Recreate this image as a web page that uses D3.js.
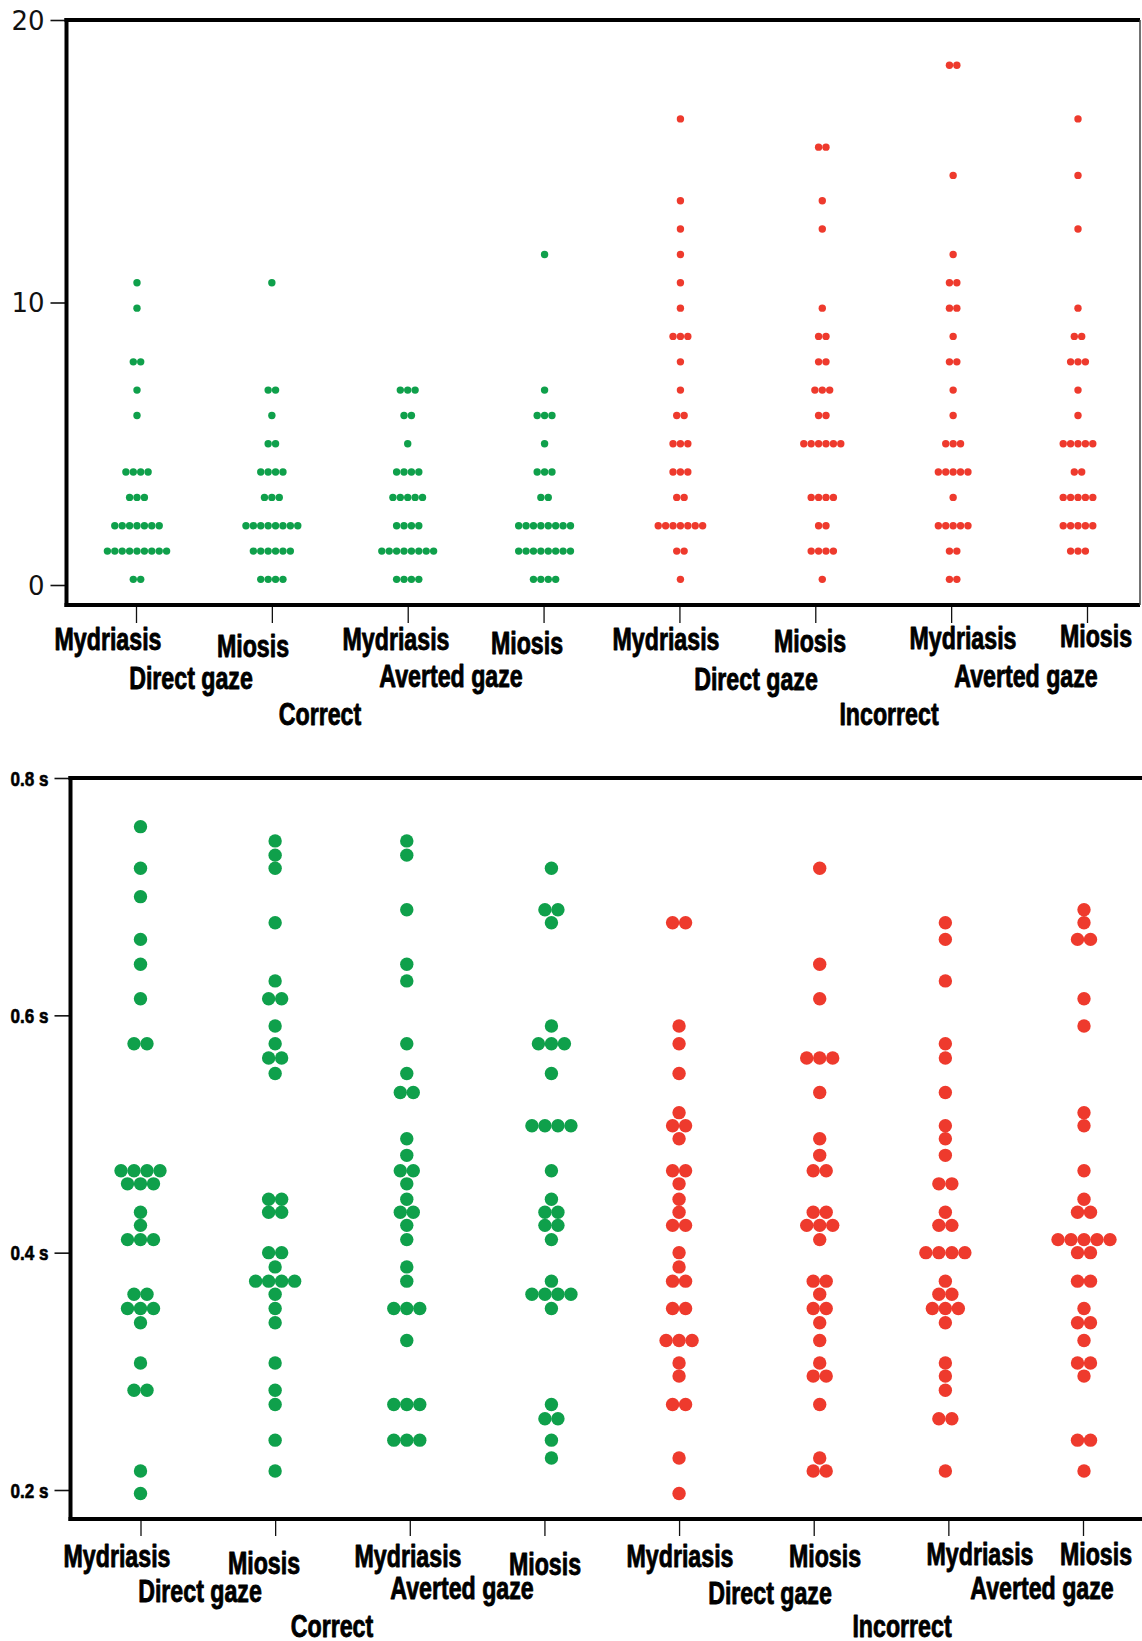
<!DOCTYPE html>
<html>
<head>
<meta charset="utf-8">
<script src="https://cdn.jsdelivr.net/npm/d3@7"></script>
<style>
  body { margin: 0; background: #fff; }
  svg { display: block; }
</style>
</head>
<body>
<svg id="chart" width="1142" height="1641"></svg>
<script>
// categories
const colIds = ["c-myd-dir", "c-mio-dir", "c-myd-avt", "c-mio-avt", "i-myd-dir", "i-mio-dir", "i-myd-avt", "i-mio-avt"];
const pupilLabels = ["Mydriasis", "Miosis", "Mydriasis", "Miosis", "Mydriasis", "Miosis", "Mydriasis", "Miosis"];
const gazeLabels = ["Direct gaze", "Averted gaze", "Direct gaze", "Averted gaze"];
const outcomeLabels = ["Correct", "Incorrect"];

// top panel: counts, [value, number of dots at that value]
const errCorrMydDir = [[10.7,1],[9.8,1],[7.9,2],[6.9,1],[6.0,1],[4.0,4],[3.1,3],[2.1,7],[1.2,9],[0.2,2]];
const errCorrMioDir = [[10.7,1],[6.9,2],[6.0,1],[5.0,2],[4.0,4],[3.1,3],[2.1,8],[1.2,6],[0.2,4]];
const errCorrMydAvt = [[6.9,3],[6.0,2],[5.0,1],[4.0,4],[3.1,5],[2.1,4],[1.2,8],[0.2,4]];
const errCorrMioAvt = [[11.7,1],[6.9,1],[6.0,3],[5.0,1],[4.0,3],[3.1,2],[2.1,8],[1.2,8],[0.2,4]];
const errIncMydDir = [[16.5,1],[13.6,1],[12.6,1],[11.7,1],[10.7,1],[9.8,1],[8.8,3],[7.9,1],[6.9,1],[6.0,2],[5.0,3],[4.0,3],[3.1,2],[2.1,7],[1.2,2],[0.2,1]];
const errIncMioDir = [[15.5,2],[13.6,1],[12.6,1],[9.8,1],[8.8,2],[7.9,2],[6.9,3],[6.0,2],[5.0,6],[3.1,4],[2.1,2],[1.2,4],[0.2,1]];
const errIncMydAvt = [[18.4,2],[14.5,1],[11.7,1],[10.7,2],[9.8,2],[8.8,1],[7.9,2],[6.9,1],[6.0,1],[5.0,3],[4.0,5],[3.1,1],[2.1,5],[1.2,2],[0.2,2]];
const errIncMioAvt = [[16.5,1],[14.5,1],[12.6,1],[9.8,1],[8.8,2],[7.9,3],[6.9,1],[6.0,1],[5.0,5],[4.0,2],[3.1,5],[2.1,5],[1.2,3]];
const errTicks = [0, 10, 20];

// bottom panel: response times in s, [value, number of dots]
const rtCorrMydDir = [[0.759,1],[0.724,1],[0.700,1],[0.664,1],[0.643,1],[0.614,1],[0.576,2],[0.469,4],[0.458,3],[0.434,1],[0.423,1],[0.411,3],[0.365,2],[0.353,3],[0.341,1],[0.307,1],[0.284,2],[0.216,1],[0.197,1]];
const rtCorrMioDir = [[0.747,1],[0.735,1],[0.724,1],[0.678,1],[0.629,1],[0.614,2],[0.591,1],[0.576,1],[0.564,2],[0.551,1],[0.445,2],[0.434,2],[0.400,2],[0.388,1],[0.376,4],[0.365,1],[0.353,1],[0.341,1],[0.307,1],[0.284,1],[0.272,1],[0.242,1],[0.216,1]];
const rtCorrMydAvt = [[0.747,1],[0.735,1],[0.689,1],[0.643,1],[0.629,1],[0.576,1],[0.551,1],[0.535,2],[0.496,1],[0.482,1],[0.469,2],[0.458,1],[0.445,1],[0.434,2],[0.423,1],[0.411,1],[0.388,1],[0.376,1],[0.353,3],[0.326,1],[0.272,3],[0.242,3]];
const rtCorrMioAvt = [[0.724,1],[0.689,2],[0.678,1],[0.591,1],[0.576,3],[0.551,1],[0.507,4],[0.469,1],[0.445,1],[0.434,2],[0.423,2],[0.411,1],[0.376,1],[0.365,4],[0.353,1],[0.272,1],[0.260,2],[0.242,1],[0.227,1]];
const rtIncMydDir = [[0.678,2],[0.591,1],[0.576,1],[0.551,1],[0.518,1],[0.507,2],[0.496,1],[0.469,2],[0.458,1],[0.445,1],[0.434,1],[0.423,2],[0.400,1],[0.388,1],[0.376,2],[0.353,2],[0.326,3],[0.307,1],[0.296,1],[0.272,2],[0.227,1],[0.197,1]];
const rtIncMioDir = [[0.724,1],[0.643,1],[0.614,1],[0.564,3],[0.535,1],[0.496,1],[0.482,1],[0.469,2],[0.434,2],[0.423,3],[0.411,1],[0.376,2],[0.365,1],[0.353,2],[0.341,1],[0.326,1],[0.307,1],[0.296,2],[0.272,1],[0.227,1],[0.216,2]];
const rtIncMydAvt = [[0.678,1],[0.664,1],[0.629,1],[0.576,1],[0.564,1],[0.535,1],[0.507,1],[0.496,1],[0.482,1],[0.458,2],[0.434,1],[0.423,2],[0.400,4],[0.376,1],[0.365,2],[0.353,3],[0.341,1],[0.307,1],[0.296,1],[0.284,1],[0.260,2],[0.216,1]];
const rtIncMioAvt = [[0.689,1],[0.678,1],[0.664,2],[0.614,1],[0.591,1],[0.518,1],[0.507,1],[0.469,1],[0.445,1],[0.434,2],[0.411,5],[0.400,2],[0.376,2],[0.353,1],[0.341,2],[0.326,1],[0.307,2],[0.296,1],[0.242,2],[0.216,1]];
const rtTicks = [0.2, 0.4, 0.6, 0.8];

const GREEN = "#0fa04b";
const RED = "#ee3a2d";
const LABEL_FONT = "'Liberation Sans Narrow', 'Arial Narrow', 'Liberation Sans', Arial, sans-serif";

const svg = d3.select("#chart");
svg.append("rect").attr("width", 1142).attr("height", 1641).attr("fill", "#fff");

// condensed bold labels: measure once, then squeeze horizontally
function squeezeFactor(text, size, target) {
  const t = svg.append("text").attr("font-family", LABEL_FONT).attr("font-weight", "bold")
    .attr("font-size", size).text(text);
  const w = t.node().getComputedTextLength();
  t.remove();
  return target / w;
}
const sxLabel = squeezeFactor("Mydriasis", 32, 107);
const sxTick = squeezeFactor("0.8 s", 21, 38);

function boldLabel(g, txt, x, y, size, sx, anchor, sw) {
  g.append("text")
    .attr("transform", `translate(${x},${y}) scale(${sx},1)`)
    .attr("text-anchor", anchor || "middle")
    .attr("font-family", LABEL_FONT)
    .attr("font-weight", "bold")
    .attr("font-size", size)
    .attr("fill", "#000")
    .attr("stroke", "#000")
    .attr("stroke-width", sw || 0.9)
    .attr("stroke-linejoin", "round")
    .text(txt);
}

function drawPanel(p) {
  const g = svg.append("g");
  const x = d3.scalePoint().domain(colIds).range(p.xRange);
  const y = d3.scaleLinear().domain(p.domain).range(p.yRange);

  // dots: same value side by side, centred on the column
  const dots = [];
  p.series.forEach((rows, i) => {
    rows.forEach(([v, n]) => {
      for (let j = 0; j < n; j++) dots.push({ col: colIds[i], i, v, off: j - (n - 1) / 2 });
    });
  });
  g.selectAll("circle.dot")
    .data(dots)
    .enter()
    .append("circle")
    .attr("class", "dot")
    .attr("cx", d => x(d.col) + p.shift[d.i] + d.off * p.step)
    .attr("cy", d => y(d.v))
    .attr("r", p.r)
    .attr("fill", d => d.i < 4 ? GREEN : RED);

  // y axis
  const ya = g.append("g")
    .attr("transform", `translate(${p.frame.left},0)`)
    .call(d3.axisLeft(y).tickValues(p.ticks).tickSize(p.yTick).tickPadding(p.yPad).tickFormat(p.fmt));
  ya.select(".domain").remove();
  ya.selectAll(".tick line").attr("stroke", "#111").attr("stroke-width", 1.6);
  if (p.boldTicks) {
    ya.selectAll(".tick text").remove();
    ya.selectAll(".tick").each(function (d) {
      boldLabel(d3.select(this), p.fmt(d), -(p.yTick + p.yPad), 7, 21, sxTick, "end", 0.6);
    });
  } else {
    ya.selectAll(".tick text")
      .attr("font-family", "'DejaVu Sans', sans-serif")
      .attr("font-size", 26)
      .attr("fill", "#111")
      .attr("dy", "0.36em");
  }

  // x axis ticks (labels drawn separately)
  const xa = g.append("g")
    .attr("transform", `translate(0,${p.frame.bottom})`)
    .call(d3.axisBottom(x).tickSize(p.xTick).tickFormat(""));
  xa.select(".domain").remove();
  xa.selectAll(".tick line").attr("stroke", "#111").attr("stroke-width", 1.3);

  // frame
  const f = p.frame;
  const line = (x1, y1, x2, y2, w, c) => g.append("line")
    .attr("x1", x1).attr("y1", y1).attr("x2", x2).attr("y2", y2)
    .attr("stroke", c || "#000").attr("stroke-width", w);
  line(f.left, f.top - 2, f.left, f.bottom + 2, 4);
  line(f.left - 2, f.top, f.right, f.top, 4);
  line(f.left - 2, f.bottom, f.right, f.bottom, 4);
  if (p.rightBorder) line(f.right, f.top, f.right, f.bottom, 1.5, "#444");

  // category labels
  pupilLabels.forEach((t, i) => boldLabel(g, t, p.catX[i], p.catY[i], 32, sxLabel));
  gazeLabels.forEach((t, i) => boldLabel(g, t, p.gazeX[i], p.gazeY[i], 32, sxLabel));
  outcomeLabels.forEach((t, i) => boldLabel(g, t, p.outX[i], p.outY[i], 32, sxLabel));
}

// upper panel
drawPanel({
  series: [errCorrMydDir, errCorrMioDir, errCorrMydAvt, errCorrMioAvt, errIncMydDir, errIncMioDir, errIncMydAvt, errIncMioAvt],
  domain: [0, 20], yRange: [585, 20], xRange: [136, 1087],
  shift: [1, 0, 0, 1, 1, 7, 2, -9],
  ticks: errTicks, fmt: d3.format("d"), boldTicks: false,
  r: 3.7, step: 7.4,
  frame: { left: 66.5, top: 20, bottom: 605, right: 1140 }, rightBorder: true,
  yTick: 16, yPad: 6, xTick: 18,
  catX: [108, 253, 396, 527, 666, 810, 963, 1096],
  catY: [650, 657, 650, 654, 650, 652, 649, 647],
  gazeX: [191, 451, 756, 1026], gazeY: [689, 687, 690, 687],
  outX: [320, 889], outY: [725, 725]
});

// lower panel
drawPanel({
  series: [rtCorrMydDir, rtCorrMioDir, rtCorrMydAvt, rtCorrMioAvt, rtIncMydDir, rtIncMioDir, rtIncMydAvt, rtIncMioAvt],
  domain: [0.2, 0.8], yRange: [1490, 778], xRange: [140.5, 1083],
  shift: [0, 0, -3, 7, 0, 6, -3, 1],
  ticks: rtTicks, fmt: d => d3.format(".1f")(d) + " s", boldTicks: true,
  r: 6.7, step: 13,
  frame: { left: 70.5, top: 778, bottom: 1519, right: 1142 }, rightBorder: false,
  yTick: 16, yPad: 6, xTick: 17,
  catX: [117, 264, 408, 545, 680, 825, 980, 1096],
  catY: [1567, 1574, 1567, 1575, 1567, 1567, 1565, 1565],
  gazeX: [200, 462, 770, 1042], gazeY: [1602, 1599, 1604, 1599],
  outX: [332, 902], outY: [1637, 1637]
});
</script>
</body>
</html>
